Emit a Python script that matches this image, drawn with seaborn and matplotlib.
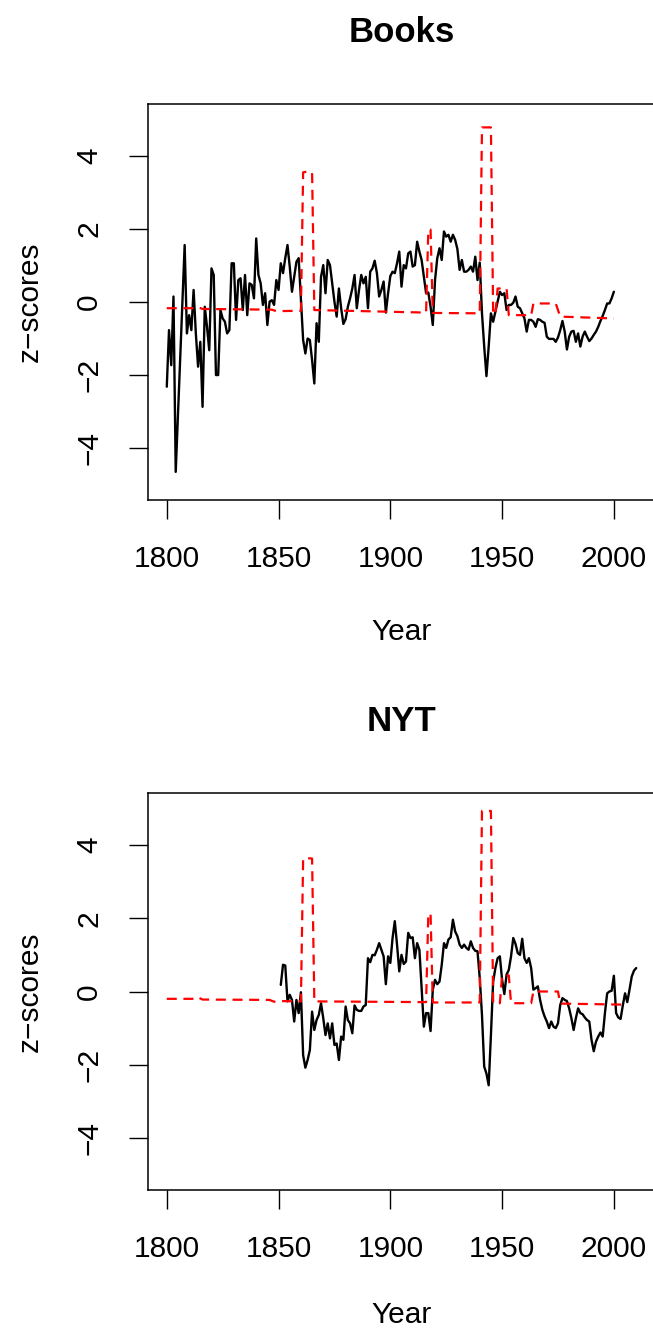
import matplotlib
matplotlib.use("Agg")
import matplotlib.pyplot as plt
import seaborn as sns

# Books: yearly z-scores 1800-2000
books_years = list(range(1800, 2001))
books_z = [
    -2.32, -0.77, -1.73, 0.15, -4.65, -3.10, -1.55, 0.00, 1.56, -0.86,   # 1800s
    -0.36, -0.77, 0.33, -0.86, -1.77, -1.09, -2.87, -0.13, -0.68, -1.32,  # 1810s
    0.92, 0.74, -2.00, -2.00, -0.22, -0.45, -0.54, -0.86, -0.77, 1.06,   # 1820s
    1.06, -0.49, 0.60, 0.65, -0.22, 0.74, -0.36, 0.51, 0.47, 0.10,       # 1830s
    1.74, 0.74, 0.51, -0.08, 0.24, -0.63, 0.01, 0.05, -0.08, 0.60,       # 1840s
    0.33, 1.06, 0.79, 1.20, 1.56, 0.97, 0.28, 0.69, 1.10, 1.20,          # 1850s
    0.10, -1.04, -1.41, -1.00, -1.04, -1.59, -2.23, -0.58, -1.09, 0.69,  # 1860s
    1.01, 0.24, 1.15, 1.01, 0.51, 0.01, -0.40, 0.37, -0.17, -0.60,       # 1870s
    -0.47, -0.13, 0.10, 0.37, 0.74, -0.17, 0.33, 0.74, 0.51, 0.69,       # 1880s
    -0.17, 0.83, 0.92, 1.13, 0.79, 0.15, 0.33, 0.56, -0.29, 0.24,        # 1890s
    0.71, 0.83, 0.79, 1.06, 1.38, 0.42, 1.01, 0.92, 1.33, 1.38,          # 1900s
    0.97, 1.01, 1.65, 1.38, 1.15, 0.69, 0.24, 0.26, -0.13, -0.63,        # 1910s
    0.60, 1.20, 1.47, 1.15, 1.93, 1.79, 1.84, 1.65, 1.84, 1.70,          # 1920s
    1.45, 0.88, 1.15, 0.83, 0.83, 0.88, 0.97, 0.83, 1.24, 0.60,          # 1930s
    1.08, -0.31, -1.22, -2.03, -1.22, -0.31, -0.54, -0.26, 0.01, 0.28,   # 1940s
    0.19, 0.24, -0.22, -0.08, -0.08, -0.02, 0.15, -0.13, -0.17, -0.31,   # 1950s
    -0.45, -0.81, -0.49, -0.49, -0.54, -0.68, -0.47, -0.49, -0.54, -0.57,  # 1960s
    -0.95, -1.01, -1.01, -1.01, -1.09, -0.97, -0.77, -0.52, -0.81, -1.30,  # 1970s
    -0.95, -0.81, -0.79, -1.09, -0.86, -1.22, -0.95, -0.81, -0.95, -1.07,  # 1980s
    -1.00, -0.90, -0.81, -0.68, -0.52, -0.38, -0.22, -0.04, -0.04, 0.10,   # 1990s
    0.28,
]
books_base_years = [1800, 1813, 1814, 1816, 1847, 1849, 1860, 1861, 1863, 1865, 1866,
                    1916, 1917, 1918, 1919, 1940, 1941, 1945, 1946, 1947, 1948, 1952,
                    1953, 1963, 1964, 1974, 1976, 2000]
books_base = [-0.17, -0.17, -0.14, -0.19, -0.21, -0.25, -0.24, 3.55, 3.57, 3.55, -0.22,
              -0.29, 1.98, 1.98, -0.30, -0.31, 4.78, 4.78, -0.33, -0.33, 0.37, 0.37,
              -0.36, -0.36, -0.04, -0.04, -0.40, -0.45]

# NYT: yearly z-scores 1851-2010
nyt_years = list(range(1851, 2011))
nyt_z = [
    0.18, 0.73, 0.71, -0.27, -0.09, -0.23, -0.82, -0.23, -0.59,          # 1851-59
    -0.02, -1.74, -2.08, -1.87, -1.60, -0.55, -1.05, -0.78, -0.64, -0.32,  # 1860s
    -0.73, -1.19, -0.87, -1.28, -0.87, -1.46, -1.42, -1.87, -1.23, -1.32,  # 1870s
    -0.41, -0.78, -0.87, -1.14, -0.38, -0.50, -0.53, -0.53, -0.41, -0.37,  # 1880s
    0.91, 0.80, 1.00, 0.99, 1.14, 1.32, 1.14, 0.96, 0.20, 0.96,          # 1890s
    0.78, 1.46, 1.92, 1.28, 0.55, 1.00, 0.75, 0.82, 1.60, 1.46,          # 1900s
    1.48, 0.91, 1.32, 1.14, 0.09, -0.96, -0.59, -0.59, -1.08, 0.05,      # 1910s
    0.32, 0.20, 0.27, 0.73, 1.32, 1.19, 1.42, 1.48, 1.96, 1.64,          # 1920s
    1.51, 1.28, 1.19, 1.28, 1.19, 1.14, 1.37, 1.19, 1.11, 1.10,          # 1930s
    0.37, -0.64, -2.05, -2.24, -2.56, -1.19, 0.27, 0.64, 0.91, 0.96,     # 1940s
    0.32, -0.07, 0.46, 0.59, 0.96, 1.46, 1.30, 1.05, 1.00, 1.44,         # 1950s
    0.91, 0.78, 0.91, 0.64, 0.05, 0.09, 0.14, -0.23, -0.50, -0.68,       # 1960s
    -0.82, -1.00, -0.82, -0.96, -1.00, -0.87, -0.37, -0.18, -0.23, -0.26,  # 1970s
    -0.46, -0.73, -1.05, -0.73, -0.46, -0.59, -0.62, -0.71, -0.78, -0.82,  # 1980s
    -1.32, -1.63, -1.37, -1.23, -1.12, -1.23, -0.59, -0.05, 0.00, 0.02,   # 1990s
    0.43, -0.59, -0.71, -0.75, -0.38, -0.05, -0.29, 0.05, 0.41, 0.57,    # 2000s
    0.64,
]
nyt_base_years = [1800, 1813, 1814, 1816, 1846, 1848, 1850, 1860, 1861, 1863, 1865, 1866,
                  1916, 1917, 1918, 1919, 1940, 1941, 1945, 1946, 1949, 1950, 1953,
                  1954, 1963, 1964, 1975, 1976, 2006]
nyt_base = [-0.20, -0.20, -0.16, -0.22, -0.23, -0.28, -0.26, -0.27, 3.63, 3.64, 3.63, -0.27,
            -0.29, 2.12, 2.12, -0.30, -0.30, 4.93, 4.93, -0.32, -0.32, 0.44, 0.44,
            -0.32, -0.32, 0.00, 0.00, -0.33, -0.36]

x_ticks = [1800, 1850, 1900, 1950, 2000]
y_ticks = [-4, -2, 0, 2, 4]

sns.set_style("white")
plt.rcParams.update({
    "font.family": ["Liberation Sans", "DejaVu Sans"],
    "text.color": "black",
    "axes.labelcolor": "black",
    "axes.edgecolor": "black",
    "xtick.color": "black",
    "ytick.color": "black",
})

W, H = 653, 1328
fig = plt.figure(figsize=(W / 100, H / 100), dpi=100)
fig.patch.set_facecolor("white")


def draw_panel(ax, title, years, z, base_years, base, xlab_y):
    sns.lineplot(x=years, y=z, ax=ax, color="black", linewidth=1.7,
                 estimator=None, sort=False)
    sns.lineplot(x=base_years, y=base, ax=ax, color="red", linewidth=1.6,
                 linestyle=(0, (4.5, 3.0)), estimator=None, sort=False)
    ax.set_xlim(1791.6, 2018.4)
    ax.set_ylim(-5.42, 5.42)
    ax.set_xticks(x_ticks)
    ax.set_yticks(y_ticks)
    ax.tick_params(direction="out", length=13.5, width=1.0, pad=18.7,
                   labelsize=21.5, left=True, bottom=True)
    for lab in ax.get_yticklabels():
        lab.set_rotation(90)
        lab.set_va("center")
    for sp in ax.spines.values():
        sp.set_visible(True)
        sp.set_linewidth(1.1)
        sp.set_color("black")
    ax.set_title(title, fontsize=25, fontweight="bold", y=1.18, va="center", pad=0)
    ax.set_xlabel("Year", fontsize=21.5)
    ax.xaxis.set_label_coords(0.5, xlab_y)
    ax.set_ylabel("z\u2212scores", fontsize=21.5)
    ax.yaxis.set_label_coords(-0.205, 0.5)


ax1 = fig.add_axes([148 / W, 1 - 500 / H, 507 / W, 396 / H])
draw_panel(ax1, "Books", books_years, books_z, books_base_years, books_base, -0.297)

ax2 = fig.add_axes([148 / W, 1 - 1190 / H, 507 / W, 397 / H])
draw_panel(ax2, "NYT", nyt_years, nyt_z, nyt_base_years, nyt_base, -0.28)

fig.savefig("out.png", dpi=100, facecolor="white")
